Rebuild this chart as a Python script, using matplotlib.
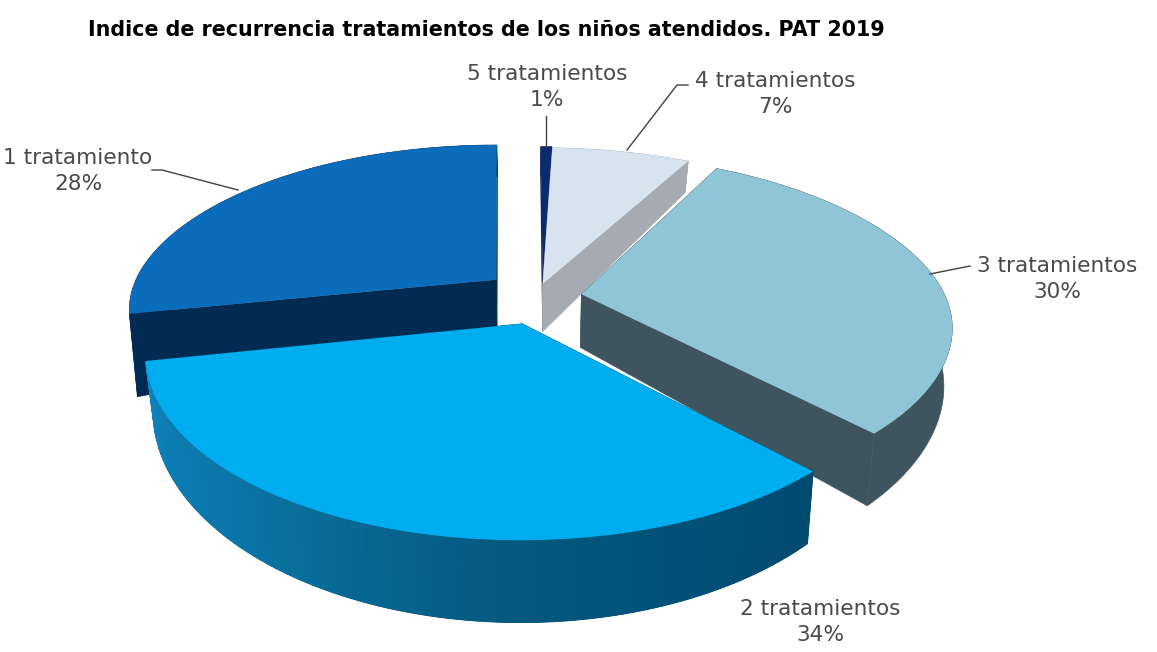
import numpy as np
import matplotlib
matplotlib.use('Agg')
import matplotlib.pyplot as plt
from matplotlib.colors import to_rgb

title = 'Indice de recurrencia tratamientos de los niños atendidos. PAT 2019'
categories = ['5 tratamientos', '4 tratamientos', '3 tratamientos', '2 tratamientos', '1 tratamiento']
values = [0.6, 7.2, 30.0, 34.0, 28.2]
shown = ['1%', '7%', '30%', '34%', '28%']

top_colors = ['#0c2b6e', '#d7e3ee', '#8fc5d6', '#00aeef', '#0b6cbc']
wall_colors = ['#0a2055', '#a6abb2', '#3e5560', '#004a70', '#012b52']
# how far each slice is pulled out of the pie
offsets_x = [0.03, 0.03, 0.136, -0.026, -0.10]
offsets_y = [0.10, 0.09, 0.028, -0.14, 0.115]
widths = [1, 1.04, 1.0, 0.99, 1.01]
shears = [0, 0, 0, 0, -0.02]
depth_scale = [1, 1, 1.08, 1, 1]
depth_tilt = [0, 0, 0, 0, 0.55]
draw_order = [0, 1, 4, 2, 3]

# label: text position, leader line
label_pos = [(547, 87), (775, 94), (1057, 279), (820, 622), (78, 171)]
leaders = [[(546, 116), (546, 147)],
           [(688, 85), (677, 85), (627, 150)],
           [(970, 266), (930, 274)],
           None,
           [(152, 170), (162, 170), (238, 190)]]

CX, CY = 532, 299
RX, RY = 365, 172
DEPTH = 50


def project(x, y, down=False, d=1, t=0):
    k = 0.192 + 0.028 * np.tanh(2.5 * np.asarray(y))
    s = 1 / (1 + k * y)
    px = x * RX * s
    py = -y * RY * s
    if down:
        px = px * 0.98
        py = py + DEPTH * d * s ** 2.4 * (1 + t * np.abs(x))
    return CX + px, CY + py


def side_color(ang):
    # la cara del trozo grande va con degradado
    stops = np.array([136, 180, 220, 259])
    cols = np.array([to_rgb(c) for c in ['#004a70', '#05587f', '#0a75a5', '#1083c0']])
    return tuple(np.interp(ang, stops, cols[:, k]) for k in range(3))


fig = plt.figure(figsize=(11.57, 6.52), dpi=100)
ax = fig.add_axes([0, 0, 1, 1])
ax.set_xlim(0, 1157)
ax.set_ylim(652, 0)
ax.axis('off')

edges = np.concatenate([[0], np.cumsum(values)]) / sum(values) * 360

for i in draw_order:
    a = np.radians(np.linspace(edges[i], edges[i + 1], 90))
    xs = np.sin(a) * widths[i] + offsets_x[i] + shears[i] * np.cos(a)
    ys = np.cos(a) + offsets_y[i]
    ox, oy = offsets_x[i], offsets_y[i]
    tx, ty = project(xs, ys)
    bx, by = project(xs, ys, down=True, d=depth_scale[i], t=depth_tilt[i])
    ax_, ay_ = project(ox, oy)
    cx_, cy_ = project(ox, oy, down=True, d=depth_scale[i], t=depth_tilt[i])
    # radial walls
    for k in [0, -1]:
        ax.fill([ax_, tx[k], bx[k], cx_], [ay_, ty[k], by[k], cy_], color=wall_colors[i], lw=0.4)
    # curved wall
    ax.fill(np.r_[tx, bx[::-1]], np.r_[ty, by[::-1]], color=wall_colors[i], lw=0.4)
    if i == 3:
        for k in range(len(a) - 1):
            ax.fill([tx[k], tx[k + 1], bx[k + 1], bx[k]], [ty[k], ty[k + 1], by[k + 1], by[k]],
                    color=side_color(np.degrees(a[k])), lw=0.8)
    ax.fill(np.r_[ax_, tx], np.r_[ay_, ty], color=top_colors[i], lw=0)

for i in range(len(categories)):
    if leaders[i] is not None:
        ax.plot(*zip(*leaders[i]), color='#404040', lw=1)
    ax.text(label_pos[i][0], label_pos[i][1], categories[i] + '\n' + shown[i], ha='center', va='center',
            fontsize=15.6, color='#4a4a4a', family='DejaVu Sans', linespacing=1.35)

ax.text(88, 30, title, fontsize=14.9, fontweight='bold', color='black', family='DejaVu Sans', va='center')

fig.savefig('out.png', dpi=100)
